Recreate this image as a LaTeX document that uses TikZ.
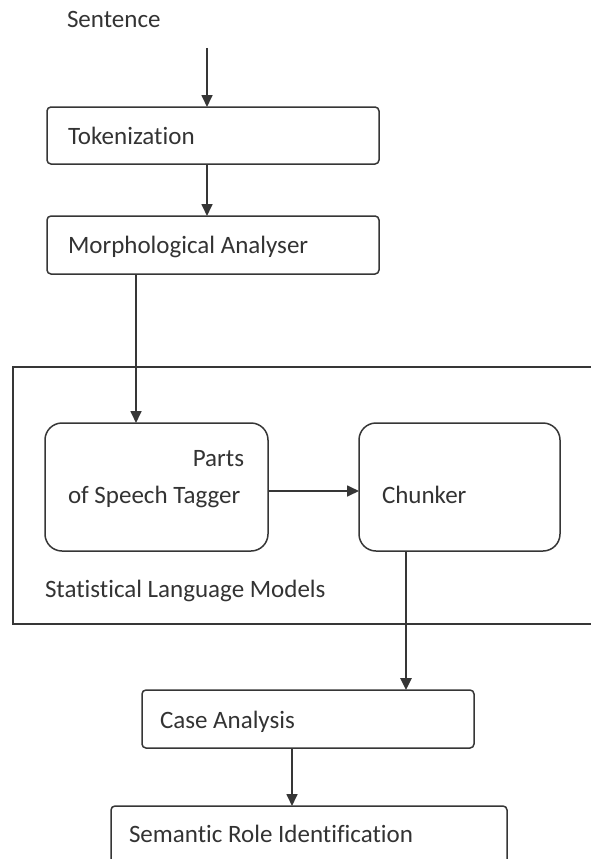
\documentclass[tikz,border=0pt]{standalone}
\usepackage{fontspec}
\setmainfont{Carlito}[Ligatures=NoCommon]
\usetikzlibrary{arrows.meta}
\definecolor{ln}{HTML}{363636}
\definecolor{tx}{HTML}{333333}
\begin{document}
\begin{tikzpicture}[x=1pt,y=-1pt,
  box/.style={draw=ln,line width=1.5pt,rounded corners=4pt,inner sep=0pt,outer sep=0pt},
  bigbox/.style={draw=ln,line width=1.5pt,rounded corners=17pt,inner sep=0pt,outer sep=0pt},
  frame/.style={draw=ln,line width=1.5pt,inner sep=0pt,outer sep=0pt},
  lbl/.style={text=tx,inner sep=0pt,outer sep=0pt,font=\fontsize{25}{28}\selectfont},
  arr/.style={draw=ln,line width=1.7pt,-{Triangle[length=12pt,width=11pt]}},
  thickarr/.style={draw=ln,line width=2.6pt,-{Triangle[length=12pt,width=11pt]}}]
\useasboundingbox (0,0) rectangle (590,859);
% container
\node[frame,minimum width=587pt,minimum height=257pt] (slm) at (306.5,495.5) {};
% boxes
\node[box,minimum width=332pt,minimum height=57pt] (tok) at (213,135.5) {};
\node[box,minimum width=332pt,minimum height=58pt] (morph) at (213,245) {};
\node[bigbox,minimum width=223pt,minimum height=128pt] (pos) at (156.5,487) {};
\node[bigbox,minimum width=201pt,minimum height=128pt] (chunk) at (459.5,487) {};
\node[box,minimum width=332pt,minimum height=58pt] (case) at (308,719) {};
\node[box,minimum width=396pt,minimum height=60pt] (sem) at (309,836) {};
% labels
\node[lbl,anchor=base west] (tsent) at (67,28) {Sentence};
\node[lbl,anchor=base west] (ttok) at (68,144) {Tokenization};
\node[lbl,anchor=base west] (tmorph) at (68,253) {Morphological Analyser};
\node[lbl,anchor=base east] (tparts) at (244,466) {Parts};
\node[lbl,anchor=base west] (tspeech) at (68,503) {of Speech Tagger};
\node[lbl,anchor=base west] (tchunk) at (382,503) {Chunker};
\node[lbl,anchor=base west] (tslm) at (45,597) {Statistical Language Models};
\node[lbl,anchor=base west] (tcase) at (160,728) {Case Analysis};
\node[lbl,anchor=base west] (tsem) at (129,842) {Semantic Role Identification};
% connector columns
\coordinate (s0) at (207,48);
\coordinate (x3) at (136,0);
\coordinate (x4) at (406,0);
\coordinate (x5) at (292,0);
% connectors
\draw[arr] (s0) -- (s0 |- tok.north);
\draw[arr] (tok.south -| s0) -- (morph.north -| s0);
\draw[arr] (morph.south -| x3) -- (pos.north -| x3);
\draw[arr] ([yshift=-4pt]pos.east) -- ([yshift=-4pt]chunk.west);
\draw[thickarr] (chunk.south -| x4) -- (case.north -| x4);
\draw[arr] (case.south -| x5) -- (sem.north -| x5);
\end{tikzpicture}
\end{document}
